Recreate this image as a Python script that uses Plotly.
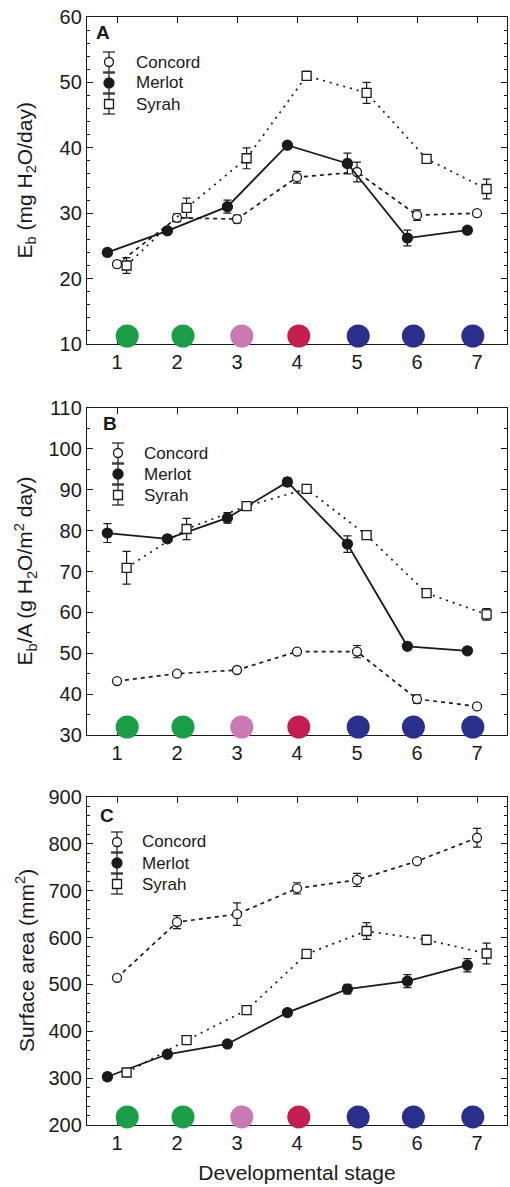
import plotly.graph_objects as go

# ---------------- data ----------------
stages = [1, 2, 3, 4, 5, 6, 7]
stage_colors = ["#1a9e48", "#1a9e48", "#c97ab2", "#c41e50", "#2a2f8c", "#2a2f8c", "#2a2f8c"]
dot_shift = [0.17, 0.1, 0.08, 0.03, 0.02, -0.06, -0.07]

cultivars = ["Concord", "Merlot", "Syrah"]

# Panel A: Eb (mg H2O/day)
A_concord = [22.2, 29.3, 29.1, 35.5, 36.3, 29.7, 30.0]
A_concord_err = [0.5, 0.6, 0.6, 0.9, 1.5, 0.8, 0.4]
A_merlot = [24.0, 27.3, 31.0, 40.4, 37.6, 26.2, 27.4]
A_merlot_err = [0.5, 0.4, 1.0, 0.4, 1.6, 1.2, 0.4]
A_syrah = [22.0, 30.8, 38.4, 51.0, 48.4, 38.3, 33.7]
A_syrah_err = [1.2, 1.5, 1.6, 0.7, 1.6, 0.5, 1.5]

# Panel B: Eb/A (g H2O/m2 day)
B_concord = [43.2, 45.0, 45.9, 50.4, 50.4, 38.8, 37.0]
B_concord_err = [0.5, 0.5, 0.6, 0.6, 1.5, 1.0, 0.5]
B_merlot = [79.4, 78.0, 83.1, 91.9, 76.7, 51.7, 50.6]
B_merlot_err = [2.3, 0.5, 1.3, 1.0, 2.0, 0.5, 0.5]
B_syrah = [70.9, 80.4, 86.0, 90.2, 78.9, 64.7, 59.5]
B_syrah_err = [4.0, 2.6, 1.0, 0.6, 0.6, 0.8, 1.4]

# Panel C: Surface area (mm2)
C_concord = [514, 633, 650, 705, 723, 763, 813]
C_concord_err = [4, 14, 24, 12, 14, 4, 20]
C_merlot = [303, 351, 373, 440, 490, 507, 541]
C_merlot_err = [8, 6, 4, 4, 10, 14, 14]
C_syrah = [312, 381, 445, 565, 614, 595, 566]
C_syrah_err = [5, 6, 6, 5, 18, 10, 22]

y_ranges = [[10, 60], [30, 110], [200, 900]]
y_dticks = [10, 10, 100]
y_minor = [2, 5, 20]
y_titles = ["E<sub>b</sub> (mg H<sub>2</sub>O/day)",
            "E<sub>b</sub>/A (g H<sub>2</sub>O/m<sup>2</sup> day)",
            "Surface area (mm<sup>2</sup>)"]
panel_letters = ["A", "B", "C"]
x_title = "Developmental stage"

panels = [
    [(A_concord, A_concord_err), (A_merlot, A_merlot_err), (A_syrah, A_syrah_err)],
    [(B_concord, B_concord_err), (B_merlot, B_merlot_err), (B_syrah, B_syrah_err)],
    [(C_concord, C_concord_err), (C_merlot, C_merlot_err), (C_syrah, C_syrah_err)],
]

# ---------------- layout geometry (pixels) ----------------
W, H = 510, 1187
PL, PR = 87, 507           # plot area x
PT, PB = 17, 1125          # overall plot area y
panel_px = [(17, 344), (408, 735), (797, 1125)]

def px_x(px):
    return (px - PL) / (PR - PL)

def px_y(py):
    return (PB - py) / (PB - PT)

FONT = "Liberation Sans, Arial, Helvetica, sans-serif"
INK = "#1a1a1a"

series_style = {
    "Concord": dict(dx=0.0, dash="4px,4px", symbol="circle", size=9, fill="white"),
    "Merlot": dict(dx=-0.16, dash="solid", symbol="circle", size=10, fill=INK),
    "Syrah": dict(dx=0.16, dash="2px,5px", symbol="square", size=9, fill="white"),
}

fig = go.Figure()
shapes = []
annotations = []

for i, (series, yr) in enumerate(zip(panels, y_ranges)):
    sfx = "" if i == 0 else str(i + 1)
    xa, ya = "x" + sfx, "y" + sfx

    # stage colour dots along the bottom
    span = yr[1] - yr[0]
    dot_y = yr[0] + span * 8.0 / 327.0
    fig.add_trace(go.Scatter(
        x=[s + d for s, d in zip(stages, dot_shift)], y=[dot_y] * len(stages),
        mode="markers", xaxis=xa, yaxis=ya, showlegend=False, cliponaxis=False,
        marker=dict(size=23, color=stage_colors, line=dict(width=0)),
        hoverinfo="skip"))

    for name, (vals, errs) in zip(cultivars, series):
        st = series_style[name]
        fig.add_trace(go.Scatter(
            x=[s + st["dx"] for s in stages], y=vals, name=name,
            xaxis=xa, yaxis=ya, mode="lines+markers", showlegend=False,
            line=dict(color=INK, width=1.8 if name == "Merlot" else 1.7, dash=st["dash"]),
            marker=dict(symbol=st["symbol"], size=st["size"], color=st["fill"],
                        line=dict(color=INK, width=1.3)),
            error_y=dict(type="data", array=errs, visible=True, color=INK,
                         thickness=1.2, width=4),
            cliponaxis=False))

    top, bot = panel_px[i]
    dom = [px_y(bot), px_y(top)]
    xaxis_cfg = dict(
        domain=[0, 1], anchor=ya, range=[0.5, 7.5], tickvals=stages,
        ticks="inside", ticklen=6, tickwidth=1.2, tickcolor=INK,
        mirror="ticks", showline=True, linecolor=INK, linewidth=1.3,
        showgrid=False, zeroline=False, layer="below traces",
        tickfont=dict(family=FONT, size=20, color=INK))
    if i == 2:
        xaxis_cfg["title"] = dict(text=x_title,
                                  font=dict(family=FONT, size=21, color=INK), standoff=12)
    fig.update_layout(**{
        ("xaxis" + sfx): xaxis_cfg,
        ("yaxis" + sfx): dict(
            domain=dom, anchor=xa, range=yr, dtick=y_dticks[i],
            ticks="inside", ticklen=6, tickwidth=1.2, tickcolor=INK,
            minor=dict(dtick=y_minor[i], ticks="inside", ticklen=3,
                       tickwidth=1, tickcolor=INK, showgrid=False),
            mirror="ticks", showline=True, linecolor=INK, linewidth=1.3,
            showgrid=False, zeroline=False,
            tickfont=dict(family=FONT, size=20, color=INK)),
    })

    # y-axis title as rotated text
    annotations.append(dict(
        text=y_titles[i], xref="paper", yref="paper",
        x=px_x(25), y=px_y((top + bot) / 2), xanchor="center", yanchor="middle",
        textangle=-90, showarrow=False,
        font=dict(family=FONT, size=21, color=INK)))

    # panel letter
    lx, ly = [(103, 16), (110, 15), (107, 18)][i]
    annotations.append(dict(
        text="<b>%s</b>" % panel_letters[i], xref="paper", yref="paper",
        x=px_x(lx), y=px_y(top + ly), xanchor="center", yanchor="middle",
        showarrow=False, font=dict(family=FONT, size=19, color=INK)))

    # legend (symbols with error bars + labels)
    sym_x = [109, 118, 117][i]
    txt_x = [134, 142, 140][i]
    for k, name in enumerate(cultivars):
        st = series_style[name]
        ry = top + 45 + 21 * k
        # error bar
        shapes.append(dict(type="line", xref="paper", yref="paper",
                           x0=px_x(sym_x), x1=px_x(sym_x), y0=px_y(ry - 10), y1=px_y(ry + 10),
                           line=dict(color=INK, width=1.2)))
        for cy in (ry - 10, ry + 10):
            shapes.append(dict(type="line", xref="paper", yref="paper",
                               x0=px_x(sym_x - 6), x1=px_x(sym_x + 6), y0=px_y(cy), y1=px_y(cy),
                               line=dict(color=INK, width=1.2)))
        r = st["size"] / 2.0
        shapes.append(dict(type="circle" if st["symbol"] == "circle" else "rect",
                           xref="paper", yref="paper",
                           x0=px_x(sym_x - r), x1=px_x(sym_x + r),
                           y0=px_y(ry + r), y1=px_y(ry - r),
                           fillcolor=st["fill"], line=dict(color=INK, width=1.3)))
        annotations.append(dict(
            text=name, xref="paper", yref="paper", x=px_x(txt_x), y=px_y(ry),
            xanchor="left", yanchor="middle", showarrow=False,
            font=dict(family=FONT, size=17, color=INK)))

fig.update_layout(
    width=W, height=H,
    margin=dict(l=PL, r=W - PR, t=PT, b=H - PB, autoexpand=False),
    paper_bgcolor="white", plot_bgcolor="white",
    showlegend=False,
    shapes=shapes, annotations=annotations,
    font=dict(family=FONT, color=INK),
)

fig.write_html("out.html")
